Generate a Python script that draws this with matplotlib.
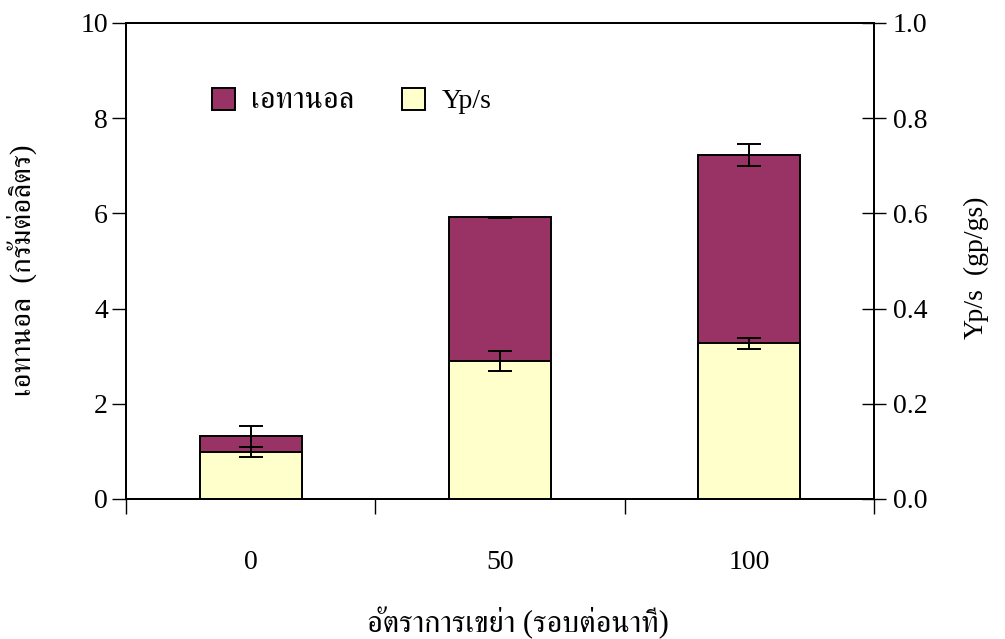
import matplotlib
matplotlib.use("Agg")
import matplotlib.pyplot as plt
from matplotlib import font_manager
from matplotlib.ft2font import FT2Font
from matplotlib.patches import Patch
import numpy as np

# shaking speed (rpm) and fermentation results
speeds = ['0', '50', '100']
ethanol = [1.32, 5.92, 7.23]          # g/L
ethanol_err = [0.22, 0.01, 0.23]
yps = [0.099, 0.290, 0.327]           # gp/gs
yps_err = [0.010, 0.021, 0.012]


def find_thai_font():
    # first installed family that carries Thai glyphs (serif preferred)
    found = []
    for f in font_manager.fontManager.ttflist:
        try:
            if 0x0E2D in FT2Font(f.fname).get_charmap():
                found.append(f.name)
        except Exception:
            pass
    found = sorted(set(found), key=lambda n: (0 if 'Serif' in n else 1, n))
    return found[0] if found else 'DejaVu Sans'


thai = find_thai_font()
plt.rcParams['font.family'] = ['Liberation Serif', thai]

maroon = '#993366'
cream = '#FFFFCC'

fig = plt.figure(figsize=(10.05, 6.39), dpi=100)
ax = fig.add_axes([126 / 1005, 1 - 499 / 639, (874 - 126) / 1005, (499 - 23) / 639])
ax2 = ax.twinx()

x = np.arange(len(speeds))
w = 0.41

ax.bar(x, ethanol, width=w, color=maroon, edgecolor='black', linewidth=1.4, zorder=2)
ax.errorbar(x, ethanol, yerr=ethanol_err, fmt='none', ecolor='black',
            elinewidth=1.4, capsize=8.5, capthick=1.4, zorder=3)

ax2.bar(x, yps, width=w, color=cream, edgecolor='black', linewidth=1.4, zorder=2)
ax2.errorbar(x, yps, yerr=yps_err, fmt='none', ecolor='black',
             elinewidth=1.4, capsize=8.5, capthick=1.4, zorder=3)

ax.set_xlim(-0.5, len(speeds) - 0.5)
ax.set_ylim(0, 10)
ax2.set_ylim(0, 1.0)

# category boundaries get the tick marks, labels sit in between
ax.set_xticks(np.arange(-0.5, len(speeds), 1.0))
ax.set_xticklabels([])
ax.set_xticks(x, minor=True)
ax.set_xticklabels(speeds, minor=True)
ax.tick_params(axis='x', which='major', direction='out', length=11, width=1)
ax.tick_params(axis='x', which='minor', length=0, pad=37, labelsize=20)

ax.set_yticks(np.arange(0, 11, 2))
ax.tick_params(axis='y', direction='out', length=10, width=1, labelsize=20, pad=3)
ax2.set_yticks(np.arange(0, 1.01, 0.2))
ax2.set_yticklabels(['%.1f' % v for v in np.arange(0, 1.01, 0.2)])
ax2.tick_params(axis='y', direction='inout', length=17, width=1, labelsize=20, pad=5)

for a in (ax, ax2):
    for s in a.spines.values():
        s.set_linewidth(1.4)

# axis titles
fig.text(22 / 1005, 1 - 270 / 639, 'เอทานอล  (กรัมต่อลิตร)', fontsize=21,
         rotation=90, ha='center', va='center')
fig.text(976 / 1005, 1 - 268 / 639, 'Yp/s  (gp/gs)', fontsize=20,
         rotation=90, ha='center', va='center')
fig.text(518 / 1005, 1 - 623 / 639, 'อัตราการเขย่า (รอบต่อนาที)', fontsize=22,
         ha='center', va='center')

handles = [Patch(facecolor=maroon, edgecolor='black', linewidth=1.4),
           Patch(facecolor=cream, edgecolor='black', linewidth=1.4)]
leg = ax2.legend(handles, ['เอทานอล', 'Yp/s'], ncol=2, frameon=False, fontsize=20,
                 loc='upper left', bbox_to_anchor=(0.1, 0.89),
                 handlelength=0.82, handleheight=0.85, handletextpad=0.6,
                 columnspacing=1.72, borderaxespad=0)
leg.get_texts()[0].set_fontsize(22)

fig.savefig('out.png', dpi=100)
